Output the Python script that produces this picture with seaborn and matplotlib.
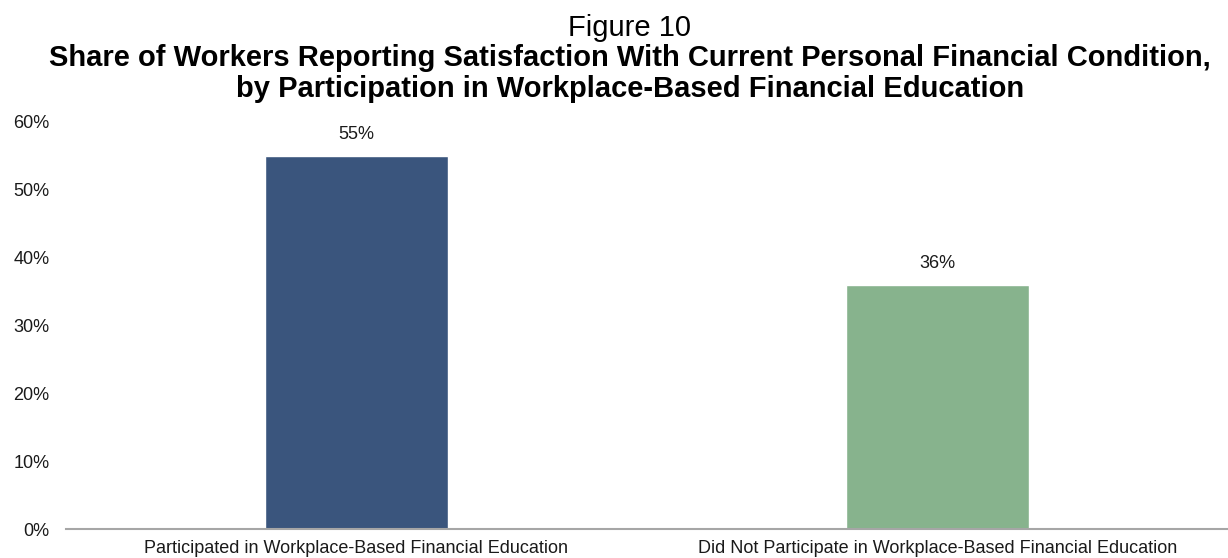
import matplotlib
matplotlib.use("Agg")
import matplotlib.pyplot as plt
import seaborn as sns
import pandas as pd

categories = [
    "Participated in Workplace-Based Financial Education",
    "Did Not Participate in Workplace-Based Financial Education",
]
shares = [55, 36]
bar_colors = ["#3A557D", "#87B38D"]
y_ticks = [0, 10, 20, 30, 40, 50, 60]
y_tick_labels = [f"{v}%" for v in y_ticks]

sns.set_style("white")
plt.rcParams["font.family"] = ["Liberation Sans", "DejaVu Sans"]

df = pd.DataFrame({"category": categories, "share": shares})

fig = plt.figure(figsize=(12.28, 5.58), dpi=100)
ax = fig.add_axes([66 / 1228, 1 - 529 / 558, 1 - 66 / 1228, (529 - 122) / 558])

sns.barplot(
    data=df, x="category", y="share", hue="category",
    palette=bar_colors, width=0.315, saturation=1, legend=False, ax=ax,
)

ax.set_ylim(0, 60)
ax.set_xlim(-0.5, 1.5)
ax.set_yticks(y_ticks)
ax.set_yticklabels(y_tick_labels, fontsize=13, color="#1a1a1a")
ax.tick_params(axis="x", labelsize=13, colors="#1a1a1a", length=0, pad=8)
ax.tick_params(axis="y", length=0, pad=12)
ax.set_xlabel("")
ax.set_ylabel("")

for side in ["top", "right", "left"]:
    ax.spines[side].set_visible(False)
ax.spines["bottom"].set_color("#A6A6A6")
ax.spines["bottom"].set_linewidth(1.5)

for container in ax.containers:
    ax.bar_label(container, fmt="%d%%", padding=9, fontsize=13, color="#1a1a1a")

title_x = 630 / 1228
fig.text(title_x, 1 - 36 / 558, "Figure 10", ha="center", va="baseline",
         fontsize=21, color="#000000")
fig.text(title_x, 1 - 66 / 558,
         "Share of Workers Reporting Satisfaction With Current Personal Financial Condition,",
         ha="center", va="baseline", fontsize=21, fontweight="bold", color="#000000")
fig.text(title_x, 1 - 97 / 558,
         "by Participation in Workplace-Based Financial Education",
         ha="center", va="baseline", fontsize=21, fontweight="bold", color="#000000")

fig.savefig("out.png", dpi=100)
